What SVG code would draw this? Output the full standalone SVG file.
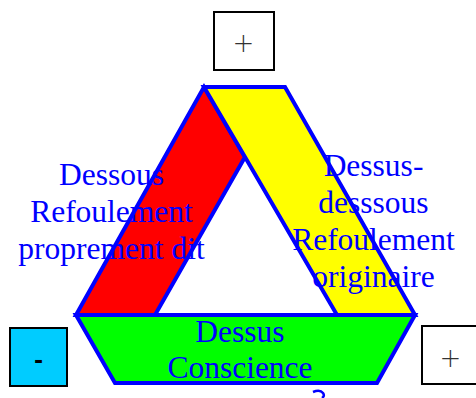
<svg xmlns="http://www.w3.org/2000/svg" width="476" height="398" viewBox="0 0 476 398">
<style>
.band{stroke:#0000ff;stroke-width:4;stroke-linejoin:miter}
.lbl{font-family:"Liberation Serif","Times New Roman",serif;font-size:31.5px;fill:#0000ff;text-anchor:middle}
.box{stroke:#000;stroke-width:2}
.sym{font-family:"DejaVu Sans",sans-serif;font-weight:200;font-size:26px;fill:#333;text-anchor:middle}
</style>
<rect width="476" height="398" fill="#fff"/>
<g id="box-top">
<rect class="box" x="214" y="12" width="60" height="58" fill="#fff"/>
<text class="sym" x="243.5" y="52">+</text>
</g>
<g id="box-left">
<rect class="box" x="10" y="328" width="57" height="58" fill="#00ccff"/>
<text class="sym" x="38.5" y="368" style="font-weight:bold;fill:#000;font-size:22px">-</text>
</g>
<g id="box-right">
<rect class="box" x="422" y="326" width="60" height="58" fill="#fff"/>
<text class="sym" x="450.5" y="367">+</text>
</g>
<g id="band-red">
<polygon class="band" points="204,87 245,157 155,315 76,315" fill="#ff0000"/>
</g>
<g id="band-yellow">
<polygon class="band" points="204,87 285,87 415,315 337,315 245,157" fill="#ffff00"/>
</g>
<g id="band-green">
<polygon class="band" points="76,315 415,315 377,383 115,383" fill="#00ff00"/>
</g>
<g id="labels">
<text class="lbl" x="111.5" y="185">Dessous</text>
<text class="lbl" x="111.5" y="222">Refoulement</text>
<text class="lbl" x="111.5" y="259">proprement dit</text>
<text class="lbl" x="373.5" y="176">Dessus-</text>
<text class="lbl" x="373.5" y="213">desssous</text>
<text class="lbl" x="373.5" y="250">Refoulement</text>
<text class="lbl" x="373.5" y="287">originaire</text>
<text class="lbl" x="240" y="342">Dessus</text>
<text class="lbl" x="240" y="378">Conscience</text>
</g>
<g id="connectors">
<path d="M313,392 Q320,389 323,393 Q325,396 322,398" fill="none" stroke="#0000ff" stroke-width="2.5"/>
</g>
</svg>
